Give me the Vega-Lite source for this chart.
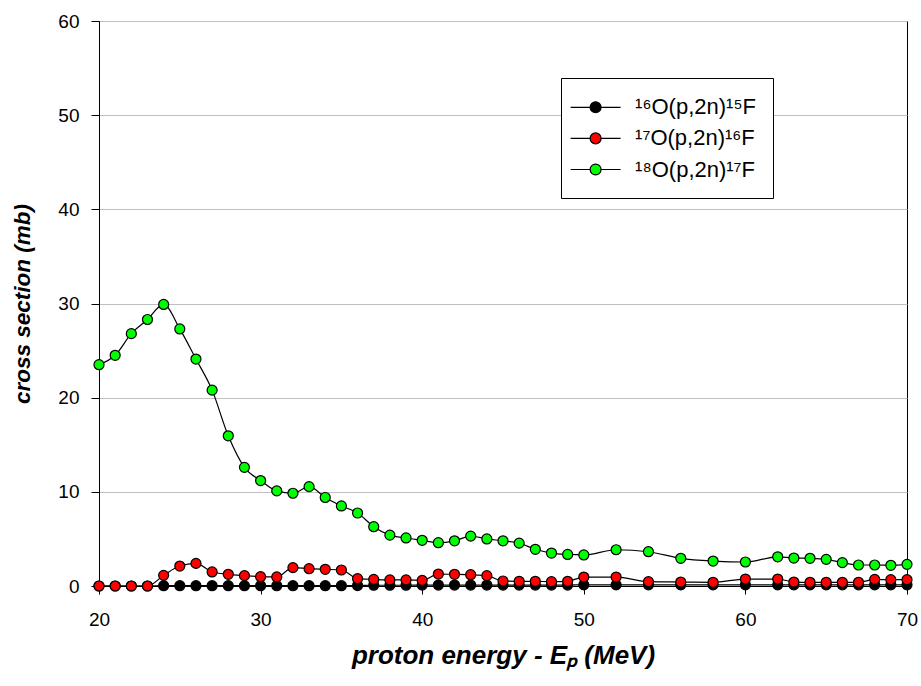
{
  "$schema": "https://vega.github.io/schema/vega-lite/v6.json",
  "width": 808,
  "height": 565,
  "autosize": {"type": "none"},
  "padding": {"left": 99, "top": 21, "right": 14, "bottom": 100},
  "background": "white",
  "config": {
    "view": {"stroke": "black", "strokeWidth": 1},
    "font": "Liberation Sans",
    "axis": {
      "labelFont": "Liberation Sans",
      "labelFontSize": 19,
      "labelColor": "black",
      "tickColor": "black",
      "domainColor": "black",
      "tickSize": 8,
      "labelFlush": false,
      "titleFont": "Liberation Sans",
      "titleFontWeight": "bold",
      "titleFontStyle": "italic",
      "titleColor": "black"
    }
  },
  "data": {
    "values": [
      {"e":20,"s":"a","v":0},{"e":21,"s":"a","v":0},{"e":22,"s":"a","v":0},{"e":23,"s":"a","v":0},
      {"e":24,"s":"a","v":0.03},{"e":25,"s":"a","v":0.03},{"e":26,"s":"a","v":0.03},{"e":27,"s":"a","v":0.03},{"e":28,"s":"a","v":0.03},{"e":29,"s":"a","v":0.03},{"e":30,"s":"a","v":0.03},
      {"e":31,"s":"a","v":0.03},{"e":32,"s":"a","v":0.03},{"e":33,"s":"a","v":0.03},{"e":34,"s":"a","v":0.03},{"e":35,"s":"a","v":0.03},{"e":36,"s":"a","v":0.05},{"e":37,"s":"a","v":0.08},
      {"e":38,"s":"a","v":0.08},{"e":39,"s":"a","v":0.08},{"e":40,"s":"a","v":0.1},{"e":41,"s":"a","v":0.1},{"e":42,"s":"a","v":0.1},{"e":43,"s":"a","v":0.1},{"e":44,"s":"a","v":0.1},
      {"e":45,"s":"a","v":0.1},{"e":46,"s":"a","v":0.1},{"e":47,"s":"a","v":0.1},{"e":48,"s":"a","v":0.1},{"e":49,"s":"a","v":0.1},{"e":50,"s":"a","v":0.12},
      {"e":52,"s":"a","v":0.12},{"e":54,"s":"a","v":0.12},{"e":56,"s":"a","v":0.12},{"e":58,"s":"a","v":0.12},{"e":60,"s":"a","v":0.12},
      {"e":62,"s":"a","v":0.12},{"e":63,"s":"a","v":0.12},{"e":64,"s":"a","v":0.12},{"e":65,"s":"a","v":0.12},{"e":66,"s":"a","v":0.12},{"e":67,"s":"a","v":0.12},{"e":68,"s":"a","v":0.12},{"e":69,"s":"a","v":0.12},{"e":70,"s":"a","v":0.12},

      {"e":20,"s":"b","v":0},{"e":21,"s":"b","v":0},{"e":22,"s":"b","v":0},{"e":23,"s":"b","v":0},
      {"e":24,"s":"b","v":1.13},{"e":25,"s":"b","v":2.12},{"e":26,"s":"b","v":2.4},{"e":27,"s":"b","v":1.49},{"e":28,"s":"b","v":1.24},{"e":29,"s":"b","v":1.1},{"e":30,"s":"b","v":0.99},
      {"e":31,"s":"b","v":0.96},{"e":32,"s":"b","v":1.95},{"e":33,"s":"b","v":1.84},{"e":34,"s":"b","v":1.77},{"e":35,"s":"b","v":1.7},{"e":36,"s":"b","v":0.78},{"e":37,"s":"b","v":0.7},
      {"e":38,"s":"b","v":0.64},{"e":39,"s":"b","v":0.64},{"e":40,"s":"b","v":0.6},{"e":41,"s":"b","v":1.27},{"e":42,"s":"b","v":1.24},{"e":43,"s":"b","v":1.2},{"e":44,"s":"b","v":1.1},
      {"e":45,"s":"b","v":0.53},{"e":46,"s":"b","v":0.5},{"e":47,"s":"b","v":0.5},{"e":48,"s":"b","v":0.46},{"e":49,"s":"b","v":0.5},{"e":50,"s":"b","v":0.95},
      {"e":52,"s":"b","v":0.95},{"e":54,"s":"b","v":0.46},{"e":56,"s":"b","v":0.42},{"e":58,"s":"b","v":0.39},{"e":60,"s":"b","v":0.74},
      {"e":62,"s":"b","v":0.74},{"e":63,"s":"b","v":0.42},{"e":64,"s":"b","v":0.39},{"e":65,"s":"b","v":0.39},{"e":66,"s":"b","v":0.39},{"e":67,"s":"b","v":0.39},{"e":68,"s":"b","v":0.7},{"e":69,"s":"b","v":0.67},{"e":70,"s":"b","v":0.67},

      {"e":20,"s":"c","v":23.5},{"e":21,"s":"c","v":24.5},{"e":22,"s":"c","v":26.8},{"e":23,"s":"c","v":28.3},
      {"e":24,"s":"c","v":29.9},{"e":25,"s":"c","v":27.3},{"e":26,"s":"c","v":24.1},{"e":27,"s":"c","v":20.8},{"e":28,"s":"c","v":15.95},{"e":29,"s":"c","v":12.6},{"e":30,"s":"c","v":11.2},
      {"e":31,"s":"c","v":10.1},{"e":32,"s":"c","v":9.85},{"e":33,"s":"c","v":10.55},{"e":34,"s":"c","v":9.4},{"e":35,"s":"c","v":8.5},{"e":36,"s":"c","v":7.75},{"e":37,"s":"c","v":6.3},
      {"e":38,"s":"c","v":5.4},{"e":39,"s":"c","v":5.1},{"e":40,"s":"c","v":4.85},{"e":41,"s":"c","v":4.6},{"e":42,"s":"c","v":4.8},{"e":43,"s":"c","v":5.3},{"e":44,"s":"c","v":5.0},
      {"e":45,"s":"c","v":4.8},{"e":46,"s":"c","v":4.55},{"e":47,"s":"c","v":3.9},{"e":48,"s":"c","v":3.5},{"e":49,"s":"c","v":3.35},{"e":50,"s":"c","v":3.3},
      {"e":52,"s":"c","v":3.85},{"e":54,"s":"c","v":3.64},{"e":56,"s":"c","v":2.94},{"e":58,"s":"c","v":2.65},{"e":60,"s":"c","v":2.55},
      {"e":62,"s":"c","v":3.1},{"e":63,"s":"c","v":2.97},{"e":64,"s":"c","v":2.94},{"e":65,"s":"c","v":2.83},{"e":66,"s":"c","v":2.48},{"e":67,"s":"c","v":2.23},{"e":68,"s":"c","v":2.23},{"e":69,"s":"c","v":2.2},{"e":70,"s":"c","v":2.3}
    ]
  },
  "encoding": {
    "x": {
      "field": "e", "type": "quantitative",
      "scale": {"domain": [20, 70], "nice": false, "zero": false},
      "axis": {"values": [20, 30, 40, 50, 60, 70], "grid": false, "labelPadding": 16, "title": "proton energy - Eₚ (MeV)", "titleFontSize": 26, "titlePadding": 13}
    },
    "y": {
      "field": "v", "type": "quantitative",
      "scale": {"domain": [0, 60], "nice": false},
      "axis": {"values": [0, 10, 20, 30, 40, 50, 60], "grid": true, "gridColor": "#c0c0c0", "gridWidth": 1.2, "labelPadding": 12, "title": "cross section (mb)", "titleFontSize": 22.5, "titlePadding": 23}
    }
  },
  "layer": [
    {
      "mark": {"type": "line", "interpolate": "monotone", "stroke": "black", "strokeWidth": 1.2},
      "encoding": {"detail": {"field": "s"}}
    },
    {
      "mark": {"type": "point", "shape": "circle", "filled": true, "size": 100, "stroke": "black", "strokeWidth": 1.2, "opacity": 1},
      "encoding": {
        "fill": {
          "field": "s", "type": "nominal",
          "scale": {"domain": ["a", "b", "c"], "range": ["#000000", "#ff0000", "#00ff00"]},
          "legend": {
            "title": null,
            "orient": "none",
            "legendX": 462,
            "legendY": 57,
            "labelExpr": "datum.value == 'a' ? '¹⁶O(p,2n)¹⁵F' : datum.value == 'b' ? '¹⁷O(p,2n)¹⁶F' : '¹⁸O(p,2n)¹⁷F'",
            "labelFont": "Liberation Sans",
            "labelFontSize": 22,
            "labelColor": "black",
            "symbolType": "M-2.1,0H-0.46M0.46,0H2.1M-0.46,0A0.46,0.46 0 1,0 0.46,0A0.46,0.46 0 1,0 -0.46,0Z",
            "symbolSize": 566,
            "symbolStrokeColor": "black",
            "symbolStrokeWidth": 1.2,
            "symbolOffset": 5.3,
            "labelOffset": 27,
            "rowPadding": 7.1,
            "padding": 16.8,
            "strokeColor": "black",
            "fillColor": "white",
            "cornerRadius": 0,
            "encode": {"symbols": {"update": {"size": {"value": 566}, "stroke": {"value": "black"}, "opacity": {"value": 1}}}}
          }
        }
      }
    }
  ]
}
